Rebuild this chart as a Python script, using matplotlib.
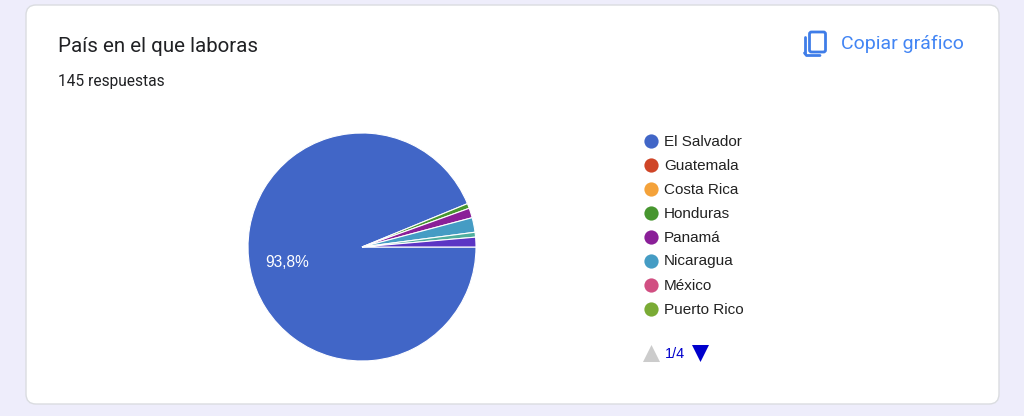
import matplotlib
matplotlib.use('Agg')
import matplotlib.pyplot as plt
from matplotlib.patches import FancyBboxPatch

# valores (145 respuestas)
paises = ['El Salvador', 'Guatemala', 'Costa Rica', 'Honduras', 'Panamá', 'Nicaragua', 'México', 'Puerto Rico']
respuestas = [136, 0, 0, 1, 2, 3, 0, 0]
colores = ['#4166c7', '#cf4527', '#f4a23a', '#47962f', '#8a1f98', '#459cc4', '#d14f82', '#7aab35']

# las dos porciones de las otras paginas de la leyenda
otros = [1, 2]
colores_otros = ['#4fae9d', '#5b35c4']

W, H = 1024, 416
fig = plt.figure(figsize=(W / 100, H / 100), dpi=100, facecolor='#eeedfb')

# capa en pixeles para tarjeta, textos y leyenda
bg = fig.add_axes([0, 0, 1, 1])
bg.set_xlim(0, W)
bg.set_ylim(H, 0)
bg.axis('off')

card = FancyBboxPatch((26, 5), 973, 399, boxstyle='round,pad=0,rounding_size=10',
                      fc='white', ec='#dadce0', lw=1)
bg.add_patch(card)

bg.text(58, 46.5, 'País en el que laboras', fontsize=14.8, family='Roboto', color='#202124', va='center')
bg.text(58, 81.5, '145 respuestas', fontsize=11.2, family='Roboto', color='#202124', va='center')
bg.text(841, 43.5, 'Copiar gráfico', fontsize=14, family='Roboto', color='#4285f4', va='center')

# icono de copiar
bg.add_patch(FancyBboxPatch((809.5, 32), 16, 20, boxstyle='round,pad=0,rounding_size=2',
                            fc='none', ec='#3f7de8', lw=2))
bg.plot([804.5, 804.5], [37, 53], color='#3f7de8', lw=2, solid_capstyle='round')
bg.plot([804.5, 806.5, 820], [53, 55.5, 55.5], color='#3f7de8', lw=2, solid_capstyle='round')

# pastel
cx, cy, r = 362, 247, 114
ax = fig.add_axes([(cx - r) / W, 1 - (cy + r) / H, 2 * r / W, 2 * r / H])
vals = [v for v in respuestas if v > 0] + otros
cols = [c for v, c in zip(respuestas, colores) if v > 0] + colores_otros
ax.pie(vals, colors=cols, startangle=0, counterclock=False, radius=1,
       wedgeprops={'edgecolor': 'white', 'linewidth': 0.8, 'clip_on': False})
ax.set_xlim(-1, 1)
ax.set_ylim(-1, 1)

total = sum(vals)
pct = f'{respuestas[0] / total * 100:.1f}'.replace('.', ',') + '%'
bg.set_zorder(0)
ax.set_zorder(1)
ax.text(-0.66, -0.135, pct, color='white', fontsize=11.2, family='Liberation Sans', ha='center', va='center')

# leyenda
for i, (p, c) in enumerate(zip(paises, colores)):
    y = 141.5 + i * 24
    bg.scatter([651], [y - 0.5], s=105, color=c, linewidths=0)
    bg.text(664, y, p, fontsize=11, family='Liberation Sans', color='#222222', va='center')

# paginador
bg.scatter([651], [353], marker='^', s=150, color='#cccccc', linewidths=0)
bg.text(665, 354, '1/4', fontsize=10.4, family='Liberation Sans', color='#0000cc', va='center')
bg.scatter([700], [353], marker='v', s=150, color='#0000cc', linewidths=0)

fig.savefig('out.png', dpi=100, facecolor=fig.get_facecolor())
